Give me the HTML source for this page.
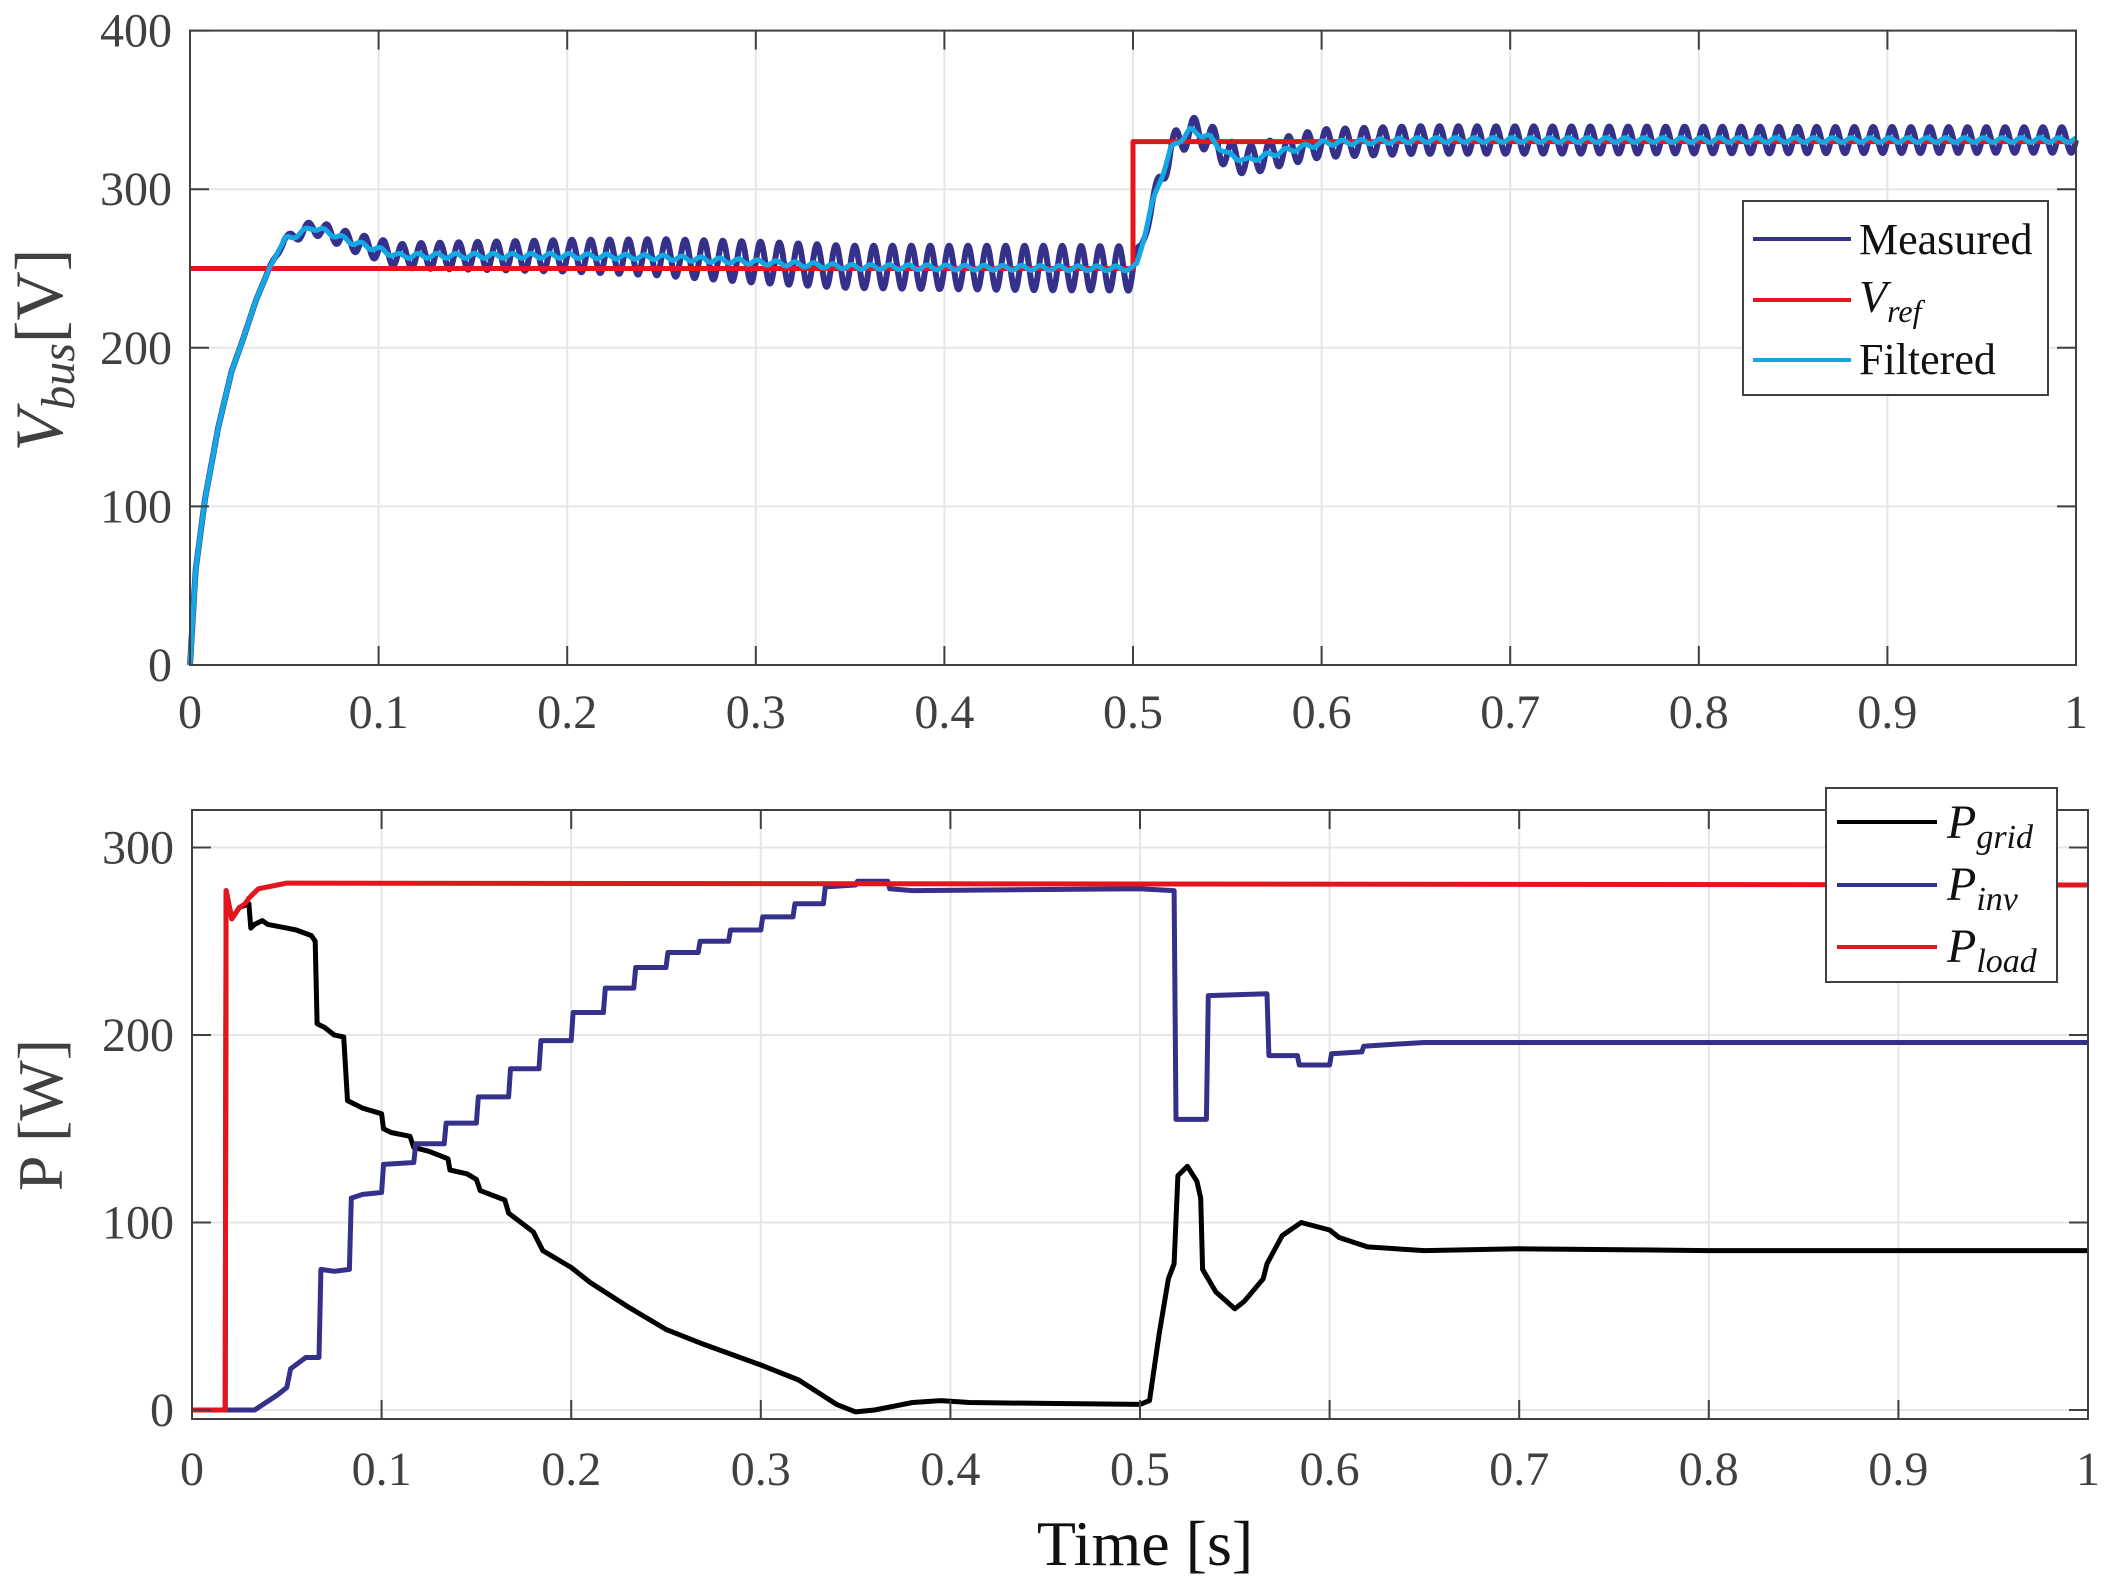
<!DOCTYPE html>
<html><head><meta charset="utf-8"><style>
html,body{margin:0;padding:0;background:#fff;}
svg{display:block;font-family:"Liberation Serif",serif;}
</style></head><body>
<svg id="s" width="2106" height="1596" viewBox="0 0 2106 1596" xmlns="http://www.w3.org/2000/svg">
<rect width="2106" height="1596" fill="#fff"/>
<g id="g"></g>
<g font-size="46" fill="#404040">
<text x="1145" y="1565" font-size="64" text-anchor="middle" fill="#111">Time [s]</text>
<text transform="translate(62,350) rotate(-90)" font-size="68" text-anchor="middle" fill="#404040"><tspan font-style="italic">V</tspan><tspan font-style="italic" font-size="48" dy="12">bus</tspan><tspan dy="-12">[V]</tspan></text>
<text transform="translate(62,1115) rotate(-90)" font-size="64" text-anchor="middle" fill="#404040">P [W]</text>
</g>
<g>
<rect x="1743" y="201" width="305" height="194" fill="#fff" stroke="#404040" stroke-width="2"/>
<line x1="1753" y1="239" x2="1851" y2="239" stroke="#35308a" stroke-width="4"/>
<line x1="1753" y1="300" x2="1851" y2="300" stroke="#e3161e" stroke-width="4"/>
<line x1="1753" y1="360" x2="1851" y2="360" stroke="#13a8e3" stroke-width="4"/>
<text x="1859" y="254" font-size="44" fill="#111">Measured</text>
<text x="1859" y="312" font-size="46" font-style="italic" fill="#111">V<tspan font-size="32" dy="10">ref</tspan></text>
<text x="1859" y="374" font-size="44" fill="#111">Filtered</text>
<rect x="1826" y="788" width="231" height="194" fill="#fff" stroke="#404040" stroke-width="2"/>
<line x1="1837" y1="822" x2="1937" y2="822" stroke="#000" stroke-width="4"/>
<line x1="1837" y1="885" x2="1937" y2="885" stroke="#35308a" stroke-width="4"/>
<line x1="1837" y1="947" x2="1937" y2="947" stroke="#e3161e" stroke-width="4"/>
<text x="1947" y="838" font-size="48" font-style="italic" fill="#111">P<tspan font-size="34" dy="10">grid</tspan></text>
<text x="1947" y="900" font-size="48" font-style="italic" fill="#111">P<tspan font-size="34" dy="10">inv</tspan></text>
<text x="1947" y="962" font-size="48" font-style="italic" fill="#111">P<tspan font-size="34" dy="10">load</tspan></text>
</g>
</svg>
<script>
var NS="http://www.w3.org/2000/svg",G=document.getElementById('g');
function el(n,a,p){var e=document.createElementNS(NS,n);for(var k in a)e.setAttribute(k,a[k]);(p||G).appendChild(e);return e;}
function interp(pts,t){for(var i=1;i<pts.length;i++){if(t<=pts[i][0]){var a=pts[i-1],b=pts[i];var r=(t-a[0])/(b[0]-a[0]||1);return a[1]+r*(b[1]-a[1]);}}return pts[pts.length-1][1];}
function axes(x0,x1,yTop,yBot,ymin,ymax,yticks,labY){
 var X=function(t){return x0+t*(x1-x0)},Y=function(v){return yBot-(v-ymin)/(ymax-ymin)*(yBot-yTop)};
 el('rect',{x:x0,y:yTop,width:x1-x0,height:yBot-yTop,fill:'#fff'});
 for(var i=1;i<10;i++)el('line',{x1:X(i/10),x2:X(i/10),y1:yTop,y2:yBot,stroke:'#e6e6e6','stroke-width':2});
 yticks.forEach(function(v){el('line',{x1:x0,x2:x1,y1:Y(v),y2:Y(v),stroke:'#e6e6e6','stroke-width':2});});
 return {X:X,Y:Y,fin:function(){
  el('rect',{x:x0,y:yTop,width:x1-x0,height:yBot-yTop,fill:'none',stroke:'#404040','stroke-width':2});
  for(var i=0;i<=10;i++){var x=X(i/10);el('line',{x1:x,x2:x,y1:yBot,y2:yBot-19,stroke:'#404040','stroke-width':2});el('line',{x1:x,x2:x,y1:yTop,y2:yTop+19,stroke:'#404040','stroke-width':2});
   var t=el('text',{x:x,y:labY,'text-anchor':'middle','font-size':48,fill:'#404040'});t.textContent=i==0?'0':(i==10?'1':'0.'+i);}
  yticks.forEach(function(v){var y=Y(v);el('line',{x1:x0,x2:x0+19,y1:y,y2:y,stroke:'#404040','stroke-width':2});el('line',{x1:x1,x2:x1-19,y1:y,y2:y,stroke:'#404040','stroke-width':2});
   var t=el('text',{x:x0-18,y:y+16,'text-anchor':'end','font-size':48,fill:'#404040'});t.textContent=v;});
 }};
}
function path(A,f,n,col,w){var d='';for(var i=0;i<=n;i++){var t=i/n;d+=(i?'L':'M')+A.X(t).toFixed(1)+' '+A.Y(f(t)).toFixed(1);}el('path',{d:d,fill:'none',stroke:col,'stroke-width':w,'stroke-linejoin':'round'});}
function ppath(A,pts,col,w){var d='';pts.forEach(function(p,i){d+=(i?'L':'M')+A.X(p[0]).toFixed(1)+' '+A.Y(p[1]).toFixed(1);});el('path',{d:d,fill:'none',stroke:col,'stroke-width':w,'stroke-linejoin':'round'});}
var A=axes(190,2076,30.6,665,0,400,[0,100,200,300,400],728);
var F=[[0,0],[0.003,60],[0.008,105],[0.015,150],[0.022,185],[0.028,205],[0.035,230],[0.042,250],[0.05,268],[0.058,272],[0.065,276],[0.075,272],[0.085,267],[0.1,262],[0.11,258],[0.2,258],[0.25,257],[0.3,254],[0.35,251],[0.5,250],[0.502,252],[0.51,290],[0.52,325],[0.53,337],[0.54,333],[0.55,322],[0.56,318],[0.58,324],[0.6,329],[0.65,331],[1,331]];
var AM=[[0,0],[0.04,0],[0.06,4],[0.12,8],[0.2,10],[0.3,13],[0.45,14],[0.5,14],[0.505,3],[0.52,9],[1,8]];
path(A,function(t){return interp(F,t)+interp(AM,t)*Math.sin(2*Math.PI*100*t);},5000,'#35308a',6);
ppath(A,[[0,250],[0.5,250],[0.5,330],[1,330]],'#e3161e',5);
path(A,function(t){return interp(F,t)+(t>0.05?1.5*Math.sin(2*Math.PI*100*t+1):0);},3000,'#13a8e3',5);
A.fin();
var B=axes(192,2088,810,1419,-4.8,320,[0,100,200,300],1485);
var PL=[[0,0],[0.0175,0],[0.018,277],[0.021,262],[0.025,268],[0.028,270],[0.03,273],[0.035,278],[0.045,280],[0.05,281],[1,280]];
var PG=[[0,0],[0.0175,0],[0.018,277],[0.021,262],[0.025,268],[0.03,270],[0.031,257],[0.033,259],[0.037,261],[0.04,259],[0.05,257],[0.055,256],[0.063,253],[0.065,250],[0.066,206],[0.07,204],[0.075,200],[0.08,199],[0.082,165],[0.09,161],[0.1,158],[0.101,150],[0.105,148],[0.115,146],[0.117,140],[0.125,138],[0.135,134],[0.136,128],[0.145,126],[0.15,123],[0.152,117],[0.165,112],[0.167,105],[0.18,95],[0.185,85],[0.2,76],[0.21,68],[0.23,55],[0.25,43],[0.27,35],[0.3,24],[0.32,16],[0.34,3],[0.35,-1],[0.36,0],[0.38,4],[0.395,5],[0.41,4],[0.45,3.5],[0.5,3],[0.505,5],[0.51,40],[0.515,70],[0.518,78],[0.52,125],[0.525,130],[0.53,122],[0.532,113],[0.533,75],[0.54,63],[0.55,54],[0.555,58],[0.565,70],[0.567,78],[0.575,93],[0.585,100],[0.6,96],[0.605,92],[0.62,87],[0.65,85],[0.7,86],[0.8,85],[1,85]];
var PI=[[0,0],[0.033,0],[0.045,8],[0.05,12],[0.052,22],[0.06,28],[0.067,28],[0.068,75],[0.075,74],[0.083,75],[0.084,113],[0.09,115],[0.1,116],[0.101,131],[0.117,132],[0.118,142],[0.133,142],[0.134,153],[0.15,153],[0.151,167],[0.167,167],[0.168,182],[0.183,182],[0.184,197],[0.2,197],[0.201,212],[0.217,212],[0.218,225],[0.233,225],[0.234,236],[0.25,236],[0.251,244],[0.267,244],[0.268,250],[0.283,250],[0.284,256],[0.3,256],[0.301,263],[0.317,263],[0.318,270],[0.333,270],[0.334,279],[0.35,280],[0.351,282],[0.367,282],[0.368,278],[0.38,277],[0.5,278],[0.518,277],[0.519,155],[0.535,155],[0.536,221],[0.567,222],[0.568,189],[0.583,189],[0.584,184],[0.6,184],[0.601,190],[0.617,191],[0.618,194],[0.633,195],[0.65,196],[1,196]];
ppath(B,PG,'#000',5);
ppath(B,PI,'#35308a',5);
ppath(B,PL,'#e3161e',5);
B.fin();
</script>
</body></html>
